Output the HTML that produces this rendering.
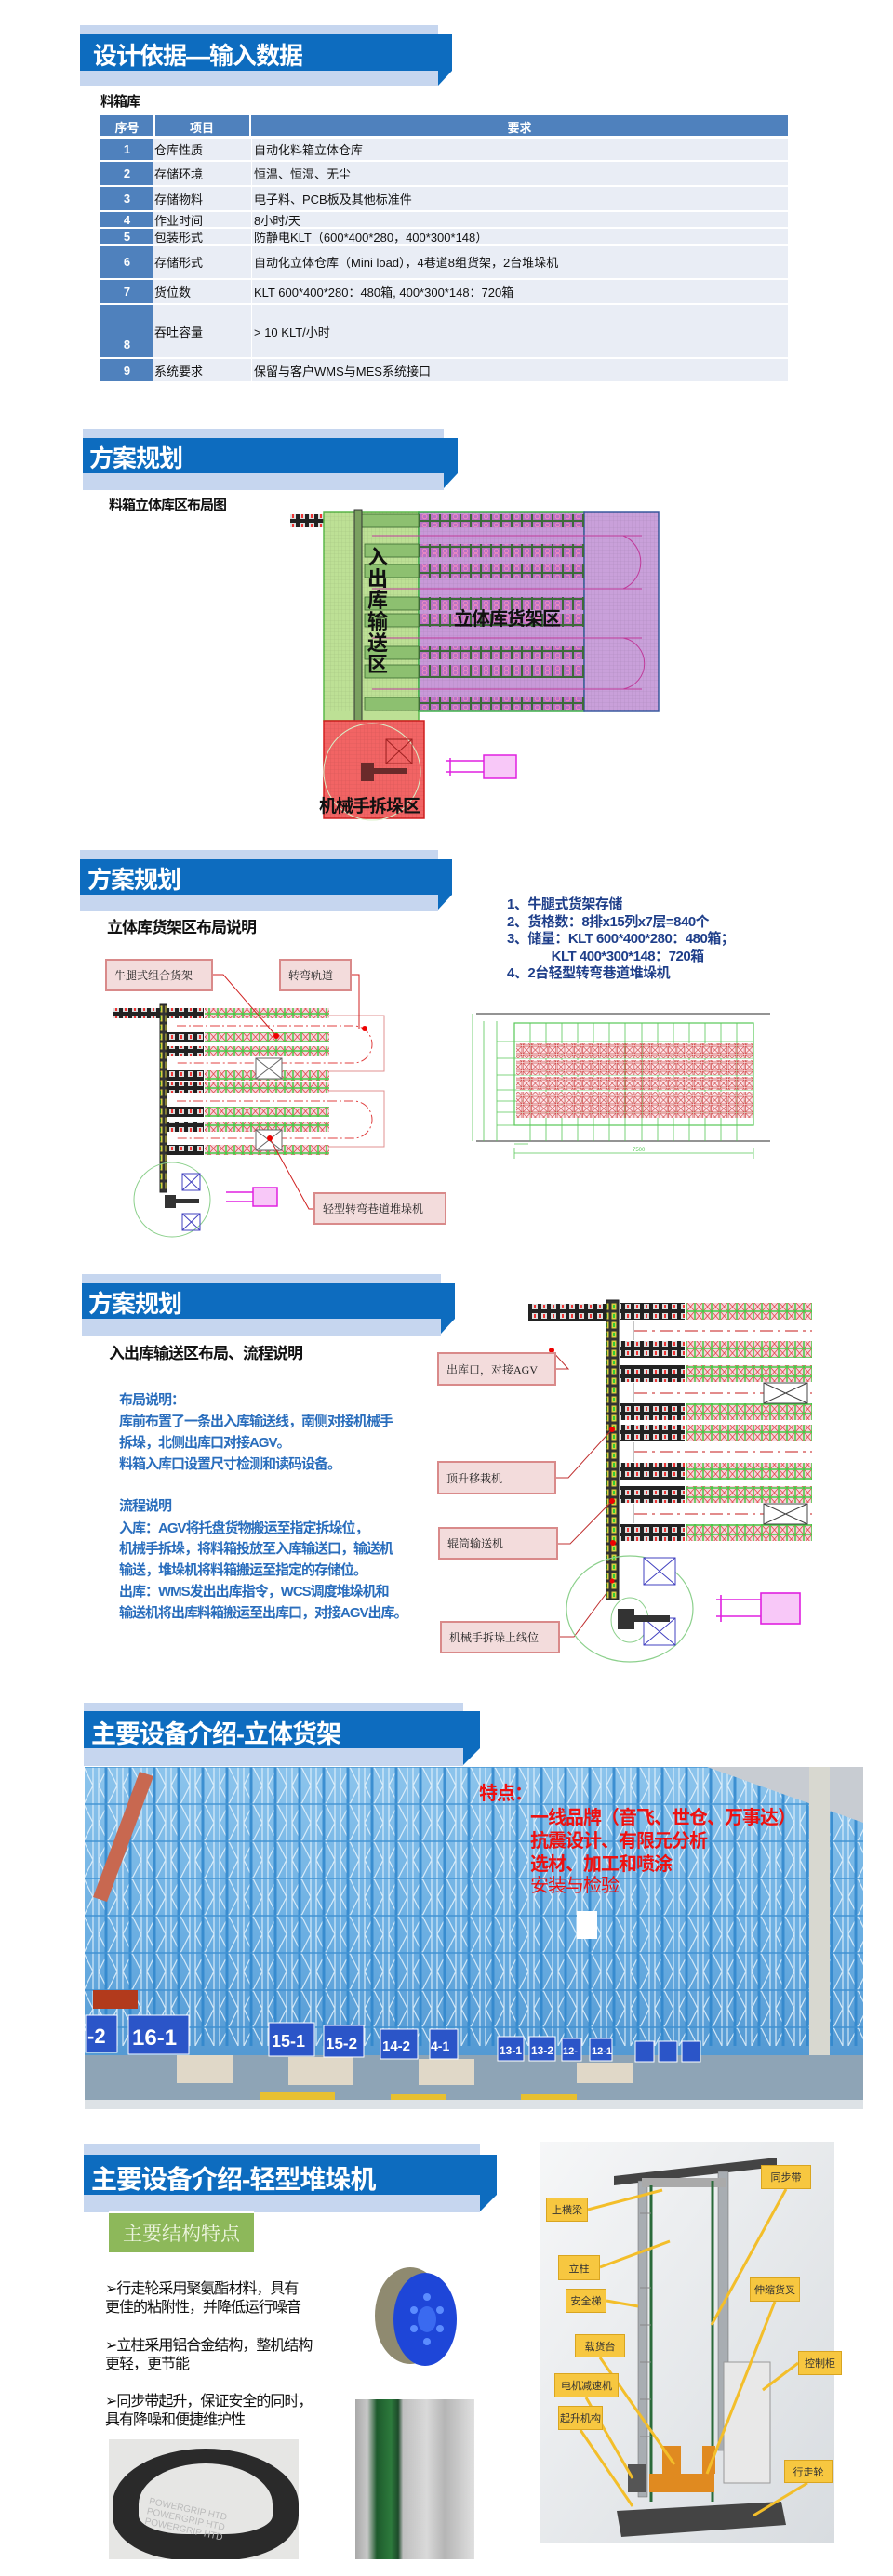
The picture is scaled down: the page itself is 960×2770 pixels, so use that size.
<!DOCTYPE html>
<html><head><meta charset="utf-8">
<style>
*{margin:0;padding:0;box-sizing:border-box}
body{width:960px;height:2770px;background:#fff;position:relative;overflow:hidden;font-family:"Liberation Sans","Noto Sans CJK SC",sans-serif}
.a{position:absolute}
.lb{position:absolute;background:#c6d6ef}
.db{position:absolute;background:#0d6cbf}
.tt{position:absolute;color:#fff;font-weight:bold;white-space:nowrap;letter-spacing:-1px}
.sub{position:absolute;font-weight:bold;color:#111;white-space:nowrap;letter-spacing:-1px}
.row{position:absolute;left:108px;width:739px;background:#e9edf5;font-size:13px;color:#111}
.row .n{position:absolute;left:0;top:0;bottom:0;width:57px;background:#4f81bd;color:#fff;font-weight:bold;font-size:13px;display:flex;align-items:center;justify-content:center}
.row .i{position:absolute;left:58px;top:0;bottom:0;width:102px;display:flex;align-items:center}
.row .r{position:absolute;left:162px;top:0;bottom:0;display:flex;align-items:center;border-left:1px solid #fff;padding-left:2px}
.box{position:absolute;background:#f3dcdc;border:2px solid #d98a8a;color:#222;font-size:12px;display:flex;align-items:center;padding-left:8px;white-space:nowrap;font-family:"Liberation Serif","Noto Serif CJK SC",serif}
.bt{position:absolute;left:128px;color:#2a6ebd;font-weight:bold;font-size:15px;white-space:nowrap;letter-spacing:-1px}
.rt{position:absolute;color:#ee1111;font-weight:bold;font-size:20px;white-space:nowrap;letter-spacing:-1px}
.yl{position:absolute;background:#f7c740;border:1px solid #d9a520;color:#333;font-size:11px;display:flex;align-items:center;justify-content:center;white-space:nowrap}
.bl{position:absolute;left:113px;font-size:16px;color:#111;white-space:nowrap;letter-spacing:-1px}
</style></head><body>

<div class="lb" style="left:86px;top:27px;width:385px;height:66px"></div>
<div class="db" style="left:86px;top:37px;width:400px;height:39px"></div>
<div class="db" style="left:471px;top:76px;width:15px;height:16px;clip-path:polygon(0 0,100% 0,0 100%)"></div>
<div class="tt" style="left:100px;top:40px;font-size:26px">设计依据—输入数据</div>

<div class="lb" style="left:89px;top:461px;width:388px;height:66px"></div>
<div class="db" style="left:89px;top:471px;width:403px;height:38px"></div>
<div class="db" style="left:477px;top:509px;width:15px;height:16px;clip-path:polygon(0 0,100% 0,0 100%)"></div>
<div class="tt" style="left:96px;top:473px;font-size:26px">方案规划</div>

<div class="lb" style="left:86px;top:914px;width:385px;height:66px"></div>
<div class="db" style="left:86px;top:924px;width:400px;height:38px"></div>
<div class="db" style="left:471px;top:962px;width:15px;height:16px;clip-path:polygon(0 0,100% 0,0 100%)"></div>
<div class="tt" style="left:94px;top:926px;font-size:26px">方案规划</div>

<div class="lb" style="left:88px;top:1370px;width:386px;height:67px"></div>
<div class="db" style="left:88px;top:1380px;width:401px;height:38px"></div>
<div class="db" style="left:474px;top:1418px;width:15px;height:16px;clip-path:polygon(0 0,100% 0,0 100%)"></div>
<div class="tt" style="left:95px;top:1382px;font-size:26px">方案规划</div>

<div class="lb" style="left:90px;top:1831px;width:408px;height:68px"></div>
<div class="db" style="left:90px;top:1840px;width:426px;height:40px"></div>
<div class="db" style="left:498px;top:1880px;width:18px;height:18px;clip-path:polygon(0 0,100% 0,0 100%)"></div>
<div class="tt" style="left:98px;top:1843px;font-size:27px">主要设备介绍-立体货架</div>

<div class="lb" style="left:90px;top:2306px;width:426px;height:73px"></div>
<div class="db" style="left:90px;top:2317px;width:444px;height:43px"></div>
<div class="db" style="left:516px;top:2360px;width:18px;height:18px;clip-path:polygon(0 0,100% 0,0 100%)"></div>
<div class="tt" style="left:98px;top:2322px;font-size:28px">主要设备介绍-轻型堆垛机</div>

<div class="sub" style="left:108px;top:98px;font-size:15px">料箱库</div>
<div class="a" style="left:108px;top:124px;width:739px;height:22px;background:#4f81bd;color:#fff;font-weight:bold;font-size:13px">
 <div class="a" style="left:0;width:57px;top:3px;text-align:center">序号</div>
 <div class="a" style="left:57px;top:0;width:2px;height:22px;background:#fff"></div>
 <div class="a" style="left:58px;width:102px;top:3px;text-align:center">项目</div>
 <div class="a" style="left:160px;top:0;width:2px;height:22px;background:#fff"></div>
 <div class="a" style="left:162px;width:577px;top:3px;text-align:center">要求</div>
</div>
<div class="row" style="top:149px;height:23px"><div class="n">1</div><div class="i">仓库性质</div><div class="r">自动化料箱立体仓库</div></div>
<div class="row" style="top:174px;height:25px"><div class="n">2</div><div class="i">存储环境</div><div class="r">恒温、恒湿、无尘</div></div>
<div class="row" style="top:201px;height:25px"><div class="n">3</div><div class="i">存储物料</div><div class="r">电子料、PCB板及其他标准件</div></div>
<div class="row" style="top:228px;height:16px"><div class="n">4</div><div class="i">作业时间</div><div class="r">8小时/天</div></div>
<div class="row" style="top:246px;height:16px"><div class="n">5</div><div class="i">包装形式</div><div class="r">防静电KLT（600*400*280，400*300*148）</div></div>
<div class="row" style="top:264px;height:35px"><div class="n">6</div><div class="i">存储形式</div><div class="r">自动化立体仓库（Mini load），4巷道8组货架，2台堆垛机</div></div>
<div class="row" style="top:301px;height:25px"><div class="n">7</div><div class="i">货位数</div><div class="r">KLT 600*400*280：480箱, 400*300*148：720箱</div></div>
<div class="row" style="top:328px;height:56px"><div class="n" style="align-items:flex-end;padding-bottom:6px">8</div><div class="i">吞吐容量</div><div class="r">&gt; 10 KLT/小时</div></div>
<div class="row" style="top:386px;height:24px"><div class="n">9</div><div class="i">系统要求</div><div class="r">保留与客户WMS与MES系统接口</div></div>

<svg class="a" style="left:0;top:0" width="960" height="2770" viewBox="0 0 960 2770">
<defs>
 <pattern id="grid" width="4" height="4" patternUnits="userSpaceOnUse"><path d="M4 0V4M0 4H4" stroke="#000" stroke-opacity=".12" stroke-width=".6" fill="none"/></pattern>
 <pattern id="pc" width="11" height="14" patternUnits="userSpaceOnUse"><rect width="11" height="14" fill="#3d6a3a"/><rect x="1" y="1" width="9" height="12" fill="#b672c4"/><circle cx="5.5" cy="4.5" r="2.3" fill="none" stroke="#f08ac0" stroke-width="1"/><circle cx="5.5" cy="9.5" r="2.3" fill="none" stroke="#f08ac0" stroke-width="1"/></pattern>
 <pattern id="px" width="9" height="10" patternUnits="userSpaceOnUse"><rect width="9" height="10" fill="#f6d4dc" stroke="#38c838" stroke-width="1.4"/><path d="M1 1L8 9M8 1L1 9" stroke="#e04848" stroke-width=".8"/></pattern>
 <pattern id="px2" width="9.2" height="9" patternUnits="userSpaceOnUse"><rect x="1" y="0" width="8" height="8" fill="#fbe4e8" stroke="#d04848" stroke-width=".8"/><path d="M1 0L9 8M9 0L1 8" stroke="#d04848" stroke-width=".6"/></pattern>
 <pattern id="cv" width="10" height="10" patternUnits="userSpaceOnUse"><rect width="10" height="10" fill="#222"/><rect x="2" y="2" width="6" height="6" fill="#ddd"/><rect x="4" y="3" width="2" height="4" fill="#e33"/></pattern>
 <pattern id="cvv" width="8" height="10" patternUnits="userSpaceOnUse"><rect width="8" height="10" fill="#333"/><rect x="1.5" y="1.5" width="5" height="7" fill="#d8d040"/><rect x="3" y="3" width="2" height="4" fill="#3c3"/></pattern>
</defs>

<g>
 <rect x="312" y="553" width="36" height="14" fill="url(#cv)"/>
 <rect x="348" y="551" width="102" height="224" fill="#bde095" stroke="#5cb84a" stroke-width="1.5"/>
 <rect x="450" y="551" width="178" height="214" fill="#c899d8" stroke="#3fb04a" stroke-width="1.5"/>
 <rect x="628" y="551" width="80" height="214" fill="#c9a0da" stroke="#3a5aa0" stroke-width="1.5"/>
 <rect x="348" y="551" width="360" height="214" fill="url(#grid)"/>
 <g fill="url(#pc)">
  <rect x="450" y="553" width="178" height="14"/><rect x="450" y="585" width="178" height="14"/>
  <rect x="450" y="607" width="178" height="14"/><rect x="450" y="642" width="178" height="14"/>
  <rect x="450" y="660" width="178" height="14"/><rect x="450" y="695" width="178" height="14"/>
  <rect x="450" y="715" width="178" height="14"/><rect x="450" y="750" width="178" height="14"/>
 </g>
 <g fill="#8dc070" stroke="#3b6b30" stroke-width=".8">
  <rect x="388" y="553" width="62" height="14"/><rect x="392" y="585" width="58" height="14"/>
  <rect x="392" y="607" width="58" height="14"/><rect x="392" y="642" width="58" height="14"/>
  <rect x="392" y="660" width="58" height="14"/><rect x="392" y="695" width="58" height="14"/>
  <rect x="392" y="715" width="58" height="14"/><rect x="392" y="750" width="58" height="14"/>
 </g>
 <g stroke="#c03a9a" stroke-width="1" fill="none">
  <path d="M400 576H690M400 633H690M400 686H690M400 741H690"/>
  <path d="M628 576H670A31 31 0 0 1 670 633H628"/>
  <path d="M628 686H670A28 28 0 0 1 670 741H628"/>
 </g>
 <rect x="381" y="548" width="8" height="292" fill="#7aa060" stroke="#333" stroke-width="1"/>
 <rect x="348" y="775" width="108" height="105" fill="#f26464" stroke="#d42020" stroke-width="1.5"/>
 <rect x="348" y="775" width="108" height="105" fill="url(#grid)"/>
 <circle cx="400" cy="830" r="52" fill="none" stroke="#d8f0c8" stroke-width="1"/>
 <rect x="415" y="795" width="28" height="26" fill="none" stroke="#a02020"/><path d="M415 795L443 821M443 795L415 821" stroke="#a02020"/>
 <rect x="388" y="820" width="14" height="20" fill="#6a2a2a"/><rect x="398" y="826" width="40" height="6" fill="#6a2a2a"/>
 <g stroke="#e020e0" fill="none" stroke-width="1.5"><rect x="520" y="812" width="35" height="25" fill="#f8c8f8"/><path d="M480 818H520M480 830H520M484 815V834"/></g>
</g>
<g>
 <rect x="121" y="1084" width="52" height="11" fill="url(#cv)"/>
 <rect x="172" y="1080" width="7" height="202" fill="url(#cvv)" stroke="#222"/>
 <g fill="url(#cv)">
  <rect x="179" y="1084" width="40" height="11"/><rect x="179" y="1110" width="40" height="11"/><rect x="179" y="1125" width="40" height="11"/>
  <rect x="179" y="1151" width="40" height="11"/><rect x="179" y="1164" width="40" height="11"/><rect x="179" y="1190" width="40" height="11"/>
  <rect x="179" y="1206" width="40" height="11"/><rect x="179" y="1231" width="40" height="11"/>
 </g>
 <g fill="url(#px)">
  <rect x="220" y="1084" width="134" height="11"/><rect x="220" y="1110" width="134" height="11"/><rect x="220" y="1125" width="134" height="11"/>
  <rect x="220" y="1151" width="134" height="11"/><rect x="220" y="1164" width="134" height="11"/><rect x="220" y="1190" width="134" height="11"/>
  <rect x="220" y="1206" width="134" height="11"/><rect x="220" y="1231" width="134" height="11"/>
 </g>
 <g fill="none" stroke="#e09090" stroke-width="1">
  <path d="M354 1092H413V1152H354M354 1173H413V1233H354"/>
  <path d="M190 1103H380A20 20 0 0 1 380 1143H190M190 1184H380A20 20 0 0 1 380 1224H190" stroke="#e04040" stroke-dasharray="10 3 2 3"/>
 </g>
 <rect x="275" y="1138" width="28" height="22" fill="#fff" stroke="#666"/><path d="M275 1138L303 1160M303 1138L275 1160" stroke="#666"/>
 <rect x="275" y="1215" width="28" height="22" fill="#fff" stroke="#666"/><path d="M275 1215L303 1237M303 1215L275 1237" stroke="#666"/>
 <g stroke="#d02020" fill="none" stroke-width="1"><path d="M229 1048H240L297 1114"/><path d="M378 1048H386V1106"/><path d="M337 1300H332L290 1224"/></g>
 <g fill="#e00"><circle cx="297" cy="1114" r="3"/><circle cx="392" cy="1106" r="3"/><circle cx="290" cy="1224" r="3"/></g>
 <ellipse cx="185" cy="1290" rx="41" ry="40" fill="none" stroke="#8cd08c"/>
 <rect x="196" y="1262" width="19" height="18" fill="none" stroke="#4040c0"/><path d="M196 1262L215 1280M215 1262L196 1280" stroke="#4040c0"/>
 <rect x="196" y="1305" width="19" height="18" fill="none" stroke="#4040c0"/><path d="M196 1305L215 1323M215 1305L196 1323" stroke="#4040c0"/>
 <rect x="177" y="1285" width="12" height="14" fill="#333"/><rect x="186" y="1289" width="28" height="5" fill="#333"/>
 <g stroke="#e020e0" fill="none" stroke-width="1.5"><rect x="272" y="1277" width="26" height="20" fill="#f8c8f8"/><path d="M243 1282H272M243 1292H272"/></g>
</g>
<g>
 <path d="M512 1090H828M512 1227H828" stroke="#555" stroke-width="1.2"/>
 <path d="M508 1090V1227M520 1098V1227M534 1098V1227" stroke="#58c858" stroke-width=".8"/>
 <rect x="553" y="1100" width="257" height="110" fill="none" stroke="#58c858" stroke-width="1.2"/>
 <g stroke="#58c858" stroke-width=".8">
  <path d="M570 1100V1227M587 1100V1227M604 1100V1227M621 1100V1227M638 1100V1227M655 1100V1227M672 1100V1227M690 1100V1227M707 1100V1227M724 1100V1227M741 1100V1227M758 1100V1227M775 1100V1227M792 1100V1227"/>
  <path d="M534 1120H810M534 1138H810M534 1156H810M534 1172H810M534 1184H810M534 1196H810M534 1210H810"/>
 </g>
 <rect x="555" y="1122" width="255" height="16" fill="url(#px2)"/>
 <rect x="555" y="1140" width="255" height="16" fill="url(#px2)"/>
 <rect x="555" y="1158" width="255" height="14" fill="url(#px2)"/>
 <rect x="555" y="1174" width="255" height="28" fill="url(#px2)"/>
 <path d="M553 1240H810M553 1234V1246M810 1234V1246M553 1230H568" stroke="#58c858" stroke-width=".8"/>
 <text x="680" y="1238" font-size="6" fill="#58c858">7500</text>
</g>
<g>
 <rect x="568" y="1402" width="84" height="18" fill="url(#cv)"/>
 <rect x="652" y="1398" width="13" height="322" fill="url(#cvv)" stroke="#222"/>
 <g fill="url(#cv)">
  <rect x="666" y="1401" width="70" height="18"/><rect x="666" y="1442" width="70" height="18"/><rect x="666" y="1468" width="70" height="18"/>
  <rect x="666" y="1509" width="70" height="18"/><rect x="666" y="1532" width="70" height="18"/><rect x="666" y="1573" width="70" height="18"/>
  <rect x="666" y="1598" width="70" height="18"/><rect x="666" y="1639" width="70" height="18"/>
 </g>
 <g fill="url(#px)">
  <rect x="737" y="1401" width="136" height="18"/><rect x="737" y="1442" width="136" height="18"/><rect x="737" y="1468" width="136" height="18"/>
  <rect x="737" y="1509" width="136" height="18"/><rect x="737" y="1532" width="136" height="18"/><rect x="737" y="1573" width="136" height="18"/>
  <rect x="737" y="1598" width="136" height="18"/><rect x="737" y="1639" width="136" height="18"/>
 </g>
 <path d="M682 1431H873M682 1498H873M682 1561H873M682 1628H873" stroke="#d04848" stroke-width="1.2" stroke-dasharray="14 5 3 5"/>
 <path d="M681 1420V1441M681 1487V1508M681 1551V1572M681 1617V1638" stroke="#888"/>
 <rect x="821" y="1487" width="47" height="22" fill="#fff" stroke="#444"/><path d="M821 1487L868 1509M868 1487L821 1509" stroke="#444"/>
 <rect x="821" y="1617" width="47" height="22" fill="#fff" stroke="#444"/><path d="M821 1617L868 1639M868 1617L821 1639" stroke="#444"/>
 <g stroke="#c03030" fill="none" stroke-width="1"><path d="M598 1472H611L593 1452"/><path d="M598 1589H611L658 1537"/><path d="M600 1660H613L658 1614"/><path d="M602 1760H617L652 1713"/></g>
 <g fill="#e00"><circle cx="593" cy="1452" r="3"/><circle cx="658" cy="1700" r="2.5"/><circle cx="659" cy="1659" r="3"/><circle cx="658" cy="1614" r="3"/><circle cx="658" cy="1537" r="3"/></g>
 <ellipse cx="677" cy="1730" rx="68" ry="57" fill="none" stroke="#8cd08c" stroke-width="1.2"/>
 <ellipse cx="677" cy="1742" rx="20" ry="24" fill="none" stroke="#8cd08c"/>
 <rect x="692" y="1675" width="34" height="29" fill="#fff" stroke="#4040c0"/><path d="M692 1675L726 1704M726 1675L692 1704" stroke="#4040c0"/>
 <rect x="692" y="1740" width="34" height="29" fill="#fff" stroke="#4040c0"/><path d="M692 1740L726 1769M726 1740L692 1769" stroke="#4040c0"/>
 <rect x="664" y="1730" width="18" height="22" fill="#333"/><rect x="678" y="1737" width="42" height="7" fill="#333"/>
 <g stroke="#e020e0" fill="none" stroke-width="1.6"><rect x="818" y="1713" width="42" height="33" fill="#f8c8f8"/><path d="M770 1720H818M770 1738H818M775 1715V1744"/></g>
</g>
<!-- photo -->
<g>
 <defs>
  <linearGradient id="ph" x1="0" y1="0" x2="0" y2="1"><stop offset="0" stop-color="#8cc4ec"/><stop offset=".5" stop-color="#6aaee2"/><stop offset="1" stop-color="#4a90cc"/></linearGradient>
  <pattern id="rk" width="26" height="40" patternUnits="userSpaceOnUse"><path d="M2 0V40M22 0V40M2 0L22 40M22 0L2 40" stroke="#e8f4fc" stroke-width="1.2" fill="none"/><path d="M10 0V40" stroke="#2f86cc" stroke-width="3"/><path d="M0 20H26" stroke="#3a8ed0" stroke-width="1.5"/></pattern>
 </defs>
 <rect x="91" y="1900" width="837" height="368" fill="url(#ph)"/>
 <rect x="91" y="1900" width="837" height="300" fill="url(#rk)" opacity=".85"/>
 <path d="M760 1900L928 1960V1900Z" fill="#c8ccd2"/>
 <rect x="870" y="1900" width="22" height="368" fill="#d8d8d0"/>
 <path d="M100 2040L150 1905L165 1910L115 2045Z" fill="#c86850"/>
 <rect x="91" y="2210" width="837" height="58" fill="#8ea4b6"/>
 <g fill="#e0d8c8"><rect x="190" y="2210" width="60" height="30"/><rect x="310" y="2212" width="70" height="30"/><rect x="450" y="2214" width="60" height="28"/><rect x="620" y="2218" width="60" height="22"/></g>
 <g fill="#e8c030"><rect x="280" y="2250" width="80" height="8"/><rect x="420" y="2252" width="60" height="8"/><rect x="560" y="2252" width="60" height="8"/></g>
 <rect x="91" y="2258" width="837" height="10" fill="#dde2e6"/>
 <rect x="100" y="2140" width="48" height="20" fill="#b23a1c"/>
 <g fill="#2b55c8" stroke="#fff" stroke-width="1">
  <rect x="92" y="2167" width="34" height="40"/><rect x="138" y="2167" width="65" height="42"/>
  <rect x="289" y="2175" width="49" height="36"/><rect x="348" y="2178" width="43" height="34"/>
  <rect x="409" y="2182" width="40" height="32"/><rect x="462" y="2182" width="30" height="32"/>
  <rect x="535" y="2190" width="28" height="26"/><rect x="569" y="2190" width="28" height="26"/>
  <rect x="604" y="2192" width="21" height="24"/><rect x="634" y="2192" width="24" height="24"/>
  <rect x="683" y="2195" width="20" height="22"/><rect x="708" y="2195" width="20" height="22"/><rect x="733" y="2195" width="20" height="22"/>
 </g>
 <g fill="#fff" font-weight="bold" font-family="Liberation Sans,sans-serif">
  <text x="94" y="2197" font-size="22">-2</text><text x="142" y="2199" font-size="24">16-1</text>
  <text x="292" y="2201" font-size="18">15-1</text><text x="350" y="2203" font-size="17">15-2</text>
  <text x="411" y="2205" font-size="15">14-2</text><text x="463" y="2205" font-size="14">4-1</text>
  <text x="537" y="2209" font-size="12">13-1</text><text x="571" y="2209" font-size="12">13-2</text>
  <text x="605" y="2209" font-size="11">12-</text><text x="636" y="2209" font-size="11">12-1</text>
 </g>
 <rect x="620" y="2055" width="22" height="30" fill="#fff"/>
</g>
<g>
 <defs><linearGradient id="sg" x1="0" y1="0" x2="1" y2="1"><stop offset="0" stop-color="#f6f7f8"/><stop offset="1" stop-color="#d8dce0"/></linearGradient></defs>
 <rect x="580" y="2303" width="317" height="432" fill="url(#sg)"/>
 <path d="M660 2340L835 2320V2330L660 2350Z" fill="#444"/>
 <rect x="686" y="2345" width="10" height="340" fill="#a8adb2" stroke="#666" stroke-width=".5"/>
 <rect x="772" y="2335" width="11" height="300" fill="#a8adb2" stroke="#666" stroke-width=".5"/>
 <rect x="690" y="2342" width="90" height="10" fill="#aaa"/>
 <path d="M700 2350V2690M766 2345V2690" stroke="#2a6a3a" stroke-width="3"/>
 <g stroke="#888" stroke-width="1"><path d="M688 2380H700M688 2420H700M688 2460H700M688 2500H700M688 2540H700M688 2580H700M688 2620H700"/></g>
 <rect x="778" y="2540" width="50" height="130" fill="#e8e8e8" stroke="#999"/>
 <rect x="698" y="2660" width="70" height="20" fill="#e08a20"/>
 <rect x="712" y="2630" width="20" height="30" fill="#e08a20"/><rect x="755" y="2630" width="14" height="30" fill="#e08a20"/>
 <rect x="675" y="2650" width="20" height="30" fill="#555"/>
 <path d="M663 2700L840 2690L845 2715L668 2728Z" fill="#444"/>
 <g stroke="#f3be2a" stroke-width="3" fill="none">
  <path d="M632 2376L712 2355"/><path d="M845 2354L765 2500"/><path d="M645 2438L720 2410"/>
  <path d="M833 2475L760 2660"/><path d="M652 2474L686 2480"/><path d="M645 2535L725 2650"/>
  <path d="M858 2541L820 2570"/><path d="M630 2578L680 2665"/><path d="M624 2613L680 2695"/><path d="M868 2670L810 2705"/>
 </g>
</g>
</svg>

<div class="sub" style="left:117px;top:532px;font-size:15px">料箱立体库区布局图</div>
<div class="a" style="left:394px;top:588px;width:24px;font-size:22px;font-weight:bold;line-height:23px;color:#111;text-align:center">入<br>出<br>库<br>输<br>送<br>区</div>
<div class="a" style="left:488px;top:649px;font-size:20px;font-weight:bold;color:#111;letter-spacing:-1px">立体库货架区</div>
<div class="a" style="left:343px;top:852px;font-size:19px;font-weight:bold;color:#111;letter-spacing:-1px">机械手拆垛区</div>

<div class="sub" style="left:115px;top:983px;font-size:17px">立体库货架区布局说明</div>
<div class="a" style="left:545px;top:964px;font-size:15px;font-weight:bold;color:#1f3f8a;line-height:18.5px;white-space:nowrap;letter-spacing:-.5px">1、牛腿式货架存储<br>2、货格数：8排x15列x7层=840个<br>3、储量：KLT 600*400*280：480箱；<br>&nbsp;&nbsp;&nbsp;&nbsp;&nbsp;&nbsp;&nbsp;&nbsp;&nbsp;&nbsp;&nbsp;&nbsp;&nbsp;KLT 400*300*148：720箱<br>4、2台轻型转弯巷道堆垛机</div>
<div class="box" style="left:113px;top:1031px;width:116px;height:35px">牛腿式组合货架</div>
<div class="box" style="left:300px;top:1031px;width:78px;height:35px">转弯轨道</div>
<div class="box" style="left:337px;top:1282px;width:143px;height:35px">轻型转弯巷道堆垛机</div>

<div class="sub" style="left:117px;top:1441px;font-size:17px">入出库输送区布局、流程说明</div>
<div class="bt" style="top:1494px">布局说明：</div>
<div class="bt" style="top:1517px">库前布置了一条出入库输送线，南侧对接机械手</div>
<div class="bt" style="top:1540px">拆垛，北侧出库口对接AGV。</div>
<div class="bt" style="top:1563px">料箱入库口设置尺寸检测和读码设备。</div>
<div class="bt" style="top:1608px">流程说明</div>
<div class="bt" style="top:1632px">入库：AGV将托盘货物搬运至指定拆垛位，</div>
<div class="bt" style="top:1654px">机械手拆垛，将料箱投放至入库输送口，输送机</div>
<div class="bt" style="top:1677px">输送，堆垛机将料箱搬运至指定的存储位。</div>
<div class="bt" style="top:1700px">出库：WMS发出出库指令，WCS调度堆垛机和</div>
<div class="bt" style="top:1723px">输送机将出库料箱搬运至出库口，对接AGV出库。</div>
<div class="box" style="left:470px;top:1454px;width:128px;height:36px">出库口，对接AGV</div>
<div class="box" style="left:470px;top:1571px;width:128px;height:36px">顶升移栽机</div>
<div class="box" style="left:471px;top:1642px;width:129px;height:35px">辊筒输送机</div>
<div class="box" style="left:473px;top:1743px;width:129px;height:35px">机械手拆垛上线位</div>

<div class="rt" style="left:515px;top:1912px">特点：</div>
<div class="rt" style="left:570px;top:1938px">一线品牌（音飞、世仓、万事达）</div>
<div class="rt" style="left:570px;top:1963px">抗震设计、有限元分析</div>
<div class="rt" style="left:570px;top:1988px">选材、加工和喷涂</div>
<div class="rt" style="left:570px;top:2011px;font-weight:normal">安装与检验</div>

<div class="a" style="left:117px;top:2377px;width:156px;height:45px;background:#8db85a;border-top:3px solid #fff;color:#eef5e0;font-size:21px;display:flex;align-items:center;justify-content:center;font-family:'Liberation Serif','Noto Serif CJK SC',serif">主要结构特点</div>
<div class="bl" style="top:2447px">➢行走轮采用聚氨酯材料，具有</div>
<div class="bl" style="top:2467px">更佳的粘附性，并降低运行噪音</div>
<div class="bl" style="top:2508px">➢立柱采用铝合金结构，整机结构</div>
<div class="bl" style="top:2528px">更轻，更节能</div>
<div class="bl" style="top:2568px">➢同步带起升，保证安全的同时，</div>
<div class="bl" style="top:2588px">具有降噪和便捷维护性</div>
<svg class="a" style="left:395px;top:2432px" width="110" height="120">
 <ellipse cx="46" cy="58" rx="38" ry="52" fill="#8f8a70"/>
 <ellipse cx="62" cy="62" rx="34" ry="50" fill="#1e46d8"/>
 <ellipse cx="64" cy="62" rx="10" ry="14" fill="#3a6af0"/>
 <g fill="#5b8cff"><circle cx="64" cy="38" r="4"/><circle cx="64" cy="86" r="4"/><circle cx="50" cy="52" r="4"/><circle cx="78" cy="52" r="4"/><circle cx="50" cy="72" r="4"/><circle cx="78" cy="72" r="4"/></g>
</svg>
<div class="a" style="left:117px;top:2623px;width:204px;height:129px;background:#e6e6e4;overflow:hidden">
 <div class="a" style="left:4px;top:10px;width:200px;height:120px;border-radius:50% 50% 40% 40%;border:28px solid #2a2a2a;border-top-width:16px"></div>
 <div class="a" style="left:40px;top:70px;color:#bbb;font-size:10px;transform:rotate(12deg);line-height:11px">POWERGRIP HTD<br>POWERGRIP HTD<br>POWERGRIP HTD</div>
</div>
<div class="a" style="left:382px;top:2580px;width:128px;height:172px;background:linear-gradient(90deg,#a9a9a9 0,#c8c8c8 10%,#1d5a2c 18%,#2d7a3c 30%,#1d4a2a 36%,#bfbfbf 40%,#d9d9d9 60%,#b5b5b5 75%,#e0e0e0 100%)"></div>
<div class="yl" style="left:587px;top:2363px;width:45px;height:26px">上横梁</div>
<div class="yl" style="left:818px;top:2328px;width:54px;height:26px">同步带</div>
<div class="yl" style="left:600px;top:2425px;width:45px;height:27px">立柱</div>
<div class="yl" style="left:806px;top:2449px;width:54px;height:26px">伸缩货叉</div>
<div class="yl" style="left:608px;top:2461px;width:44px;height:26px">安全梯</div>
<div class="yl" style="left:618px;top:2510px;width:54px;height:25px">载货台</div>
<div class="yl" style="left:858px;top:2528px;width:47px;height:26px">控制柜</div>
<div class="yl" style="left:596px;top:2552px;width:69px;height:26px">电机减速机</div>
<div class="yl" style="left:600px;top:2587px;width:48px;height:26px">起升机构</div>
<div class="yl" style="left:843px;top:2645px;width:52px;height:25px">行走轮</div>
</body></html>
